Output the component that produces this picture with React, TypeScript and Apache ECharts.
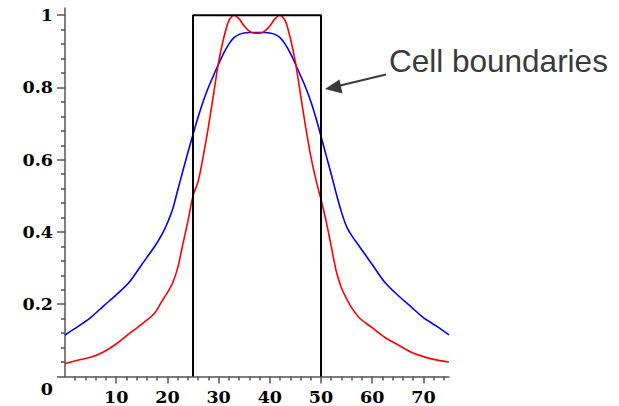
import React, { useEffect, useRef } from "react";
import * as echarts from "echarts";

// Sample positions along x
const xs = [
  0, 2.5, 5, 7.5, 10, 12.5, 15, 17.5, 19, 20, 21, 22, 23, 24, 25, 26, 27, 28, 29, 30, 31, 32, 33, 34, 35, 36, 37,
  37.5,
  38, 39, 40, 41, 42, 43, 44, 45, 46, 47, 48, 49, 50, 51, 52, 53, 54, 55, 56, 57.5, 60, 62.5, 65, 67.5, 70, 72.5, 75,
];

// Blue curve values
const blueValues = [
  0.115, 0.138, 0.163, 0.195, 0.226, 0.26, 0.31, 0.36, 0.395, 0.425, 0.462, 0.515, 0.568, 0.62, 0.67, 0.718, 0.762,
  0.8, 0.833, 0.865, 0.895, 0.92, 0.938, 0.947, 0.951, 0.952, 0.952,
  0.952,
  0.952, 0.952, 0.951, 0.947, 0.938, 0.92, 0.895, 0.865, 0.833, 0.8, 0.762, 0.716, 0.665, 0.612, 0.56, 0.505, 0.455,
  0.415, 0.39, 0.36, 0.31, 0.26, 0.225, 0.194, 0.163, 0.14, 0.115,
];

// Red curve values
const redValues = [
  0.036, 0.045, 0.053, 0.068, 0.09, 0.118, 0.145, 0.175, 0.21, 0.232, 0.258, 0.3, 0.365, 0.43, 0.5, 0.54, 0.61, 0.69,
  0.78, 0.87, 0.937, 0.985, 1.0, 0.99, 0.97, 0.956, 0.95,
  0.95,
  0.95, 0.956, 0.97, 0.99, 1.0, 0.985, 0.937, 0.87, 0.78, 0.69, 0.61, 0.545, 0.49, 0.43, 0.36, 0.29, 0.245, 0.215,
  0.19, 0.162, 0.135, 0.108, 0.088, 0.068, 0.055, 0.046, 0.04,
];

// Cell boundary box
const cellX = [25, 25, 50, 50];
const cellY = [0, 1, 1, 0];

// Tick labels
const xMajorTicks = [10, 20, 30, 40, 50, 60, 70];
const xMinorStep = 2;
const yMajorTicks = [0, 0.2, 0.4, 0.6, 0.8, 1];
const yLabelTicks = [0.2, 0.4, 0.6, 0.8, 1];
const yMinorStep = 0.04;

const annotation = "Cell boundaries";

export default function App() {
  const ref = useRef<HTMLDivElement>(null);
  useEffect(() => {
    if (!ref.current) return;
    const chart = echarts.init(ref.current, null, { renderer: "svg" });

    const xMinor: number[] = [];
    for (let v = xMinorStep; v < 75; v += xMinorStep) {
      if (v % 10 !== 0) xMinor.push(v);
    }
    const yMinor: number[] = [];
    for (let i = 1; i < 25; i++) {
      if (i % 5 !== 0) yMinor.push(+(i * yMinorStep).toFixed(2));
    }

    const axisColor = "#555";
    const labelFont = {
      fontFamily: "DejaVu Serif",
      fontWeight: "bold" as const,
      fontSize: 17.5,
      color: "#000",
    };

    chart.setOption({
      animation: false,
      backgroundColor: "#fff",
      grid: { left: 65, right: 170, top: 8, bottom: 28.5, containLabel: false },
      xAxis: [
        {
          type: "value",
          min: 0,
          max: 75,
          position: "bottom",
          axisLine: { show: true, lineStyle: { color: axisColor, width: 1.5 } },
          axisTick: { show: true, customValues: xMajorTicks, length: 7, lineStyle: { color: axisColor, width: 1.5 } },
          axisLabel: { customValues: xMajorTicks, margin: 11.5, ...labelFont },
          splitLine: { show: false },
        },
        {
          type: "value",
          min: 0,
          max: 75,
          position: "bottom",
          axisLine: { show: false },
          axisTick: { show: true, customValues: xMinor, length: 4, lineStyle: { color: axisColor, width: 1.5 } },
          axisLabel: { show: false },
          splitLine: { show: false },
        },
      ],
      yAxis: [
        {
          type: "value",
          min: 0,
          max: 1.02,
          axisLine: { show: true, lineStyle: { color: axisColor, width: 1.5 } },
          axisTick: { show: true, customValues: yMajorTicks, length: 8, lineStyle: { color: axisColor, width: 1.5 } },
          axisLabel: { customValues: yLabelTicks, margin: 12, padding: [4, 0, 0, 0], ...labelFont },
          splitLine: { show: false },
        },
        {
          type: "value",
          min: 0,
          max: 1.02,
          position: "left",
          axisLine: { show: false },
          axisTick: { show: true, customValues: yMinor, length: 4, lineStyle: { color: axisColor, width: 1.5 } },
          axisLabel: { show: false },
          splitLine: { show: false },
        },
      ],
      series: [
        {
          type: "line",
          name: "blue",
          data: xs.map((x, i) => [x, blueValues[i]]),
          showSymbol: false,
          smooth: 0.3,
          lineStyle: { color: "#0000ff", width: 1.6 },
          itemStyle: { color: "#0000ff" },
          z: 3,
        },
        {
          type: "line",
          name: "red",
          data: xs.map((x, i) => [x, redValues[i]]),
          showSymbol: false,
          smooth: 0.3,
          lineStyle: { color: "#ff0000", width: 1.6 },
          itemStyle: { color: "#ff0000" },
          z: 3,
        },
        {
          type: "line",
          name: "cell",
          data: cellX.map((x, i) => [x, cellY[i]]),
          showSymbol: false,
          lineStyle: { color: "#000", width: 2 },
          itemStyle: { color: "#000" },
          z: 4,
        },
      ],
      graphic: [
        {
          type: "text",
          x: 53,
          y: 389,
          style: {
            text: "0",
            textAlign: "right",
            textVerticalAlign: "middle",
            font: "bold 17.5px 'DejaVu Serif'",
            fill: "#000",
          },
        },
        {
          type: "text",
          x: 389,
          y: 61,
          style: {
            text: annotation,
            textAlign: "left",
            textVerticalAlign: "middle",
            font: "31.5px 'Liberation Sans', Arial, sans-serif",
            fill: "#3a3a3a",
          },
        },
        {
          type: "line",
          shape: { x1: 386, y1: 74.5, x2: 336, y2: 86.5 },
          style: { stroke: "#3a3a3a", lineWidth: 2 },
        },
        {
          type: "polygon",
          shape: { points: [[325, 89], [339.5, 79.5], [342.5, 93.5]] },
          style: { fill: "#3a3a3a" },
        },
      ],
    });
    return () => chart.dispose();
  }, []);
  return (
    <div
      ref={ref}
      style={{ position: "absolute", left: 0, top: 0, width: 619, height: 406, background: "#fff" }}
    />
  );
}
